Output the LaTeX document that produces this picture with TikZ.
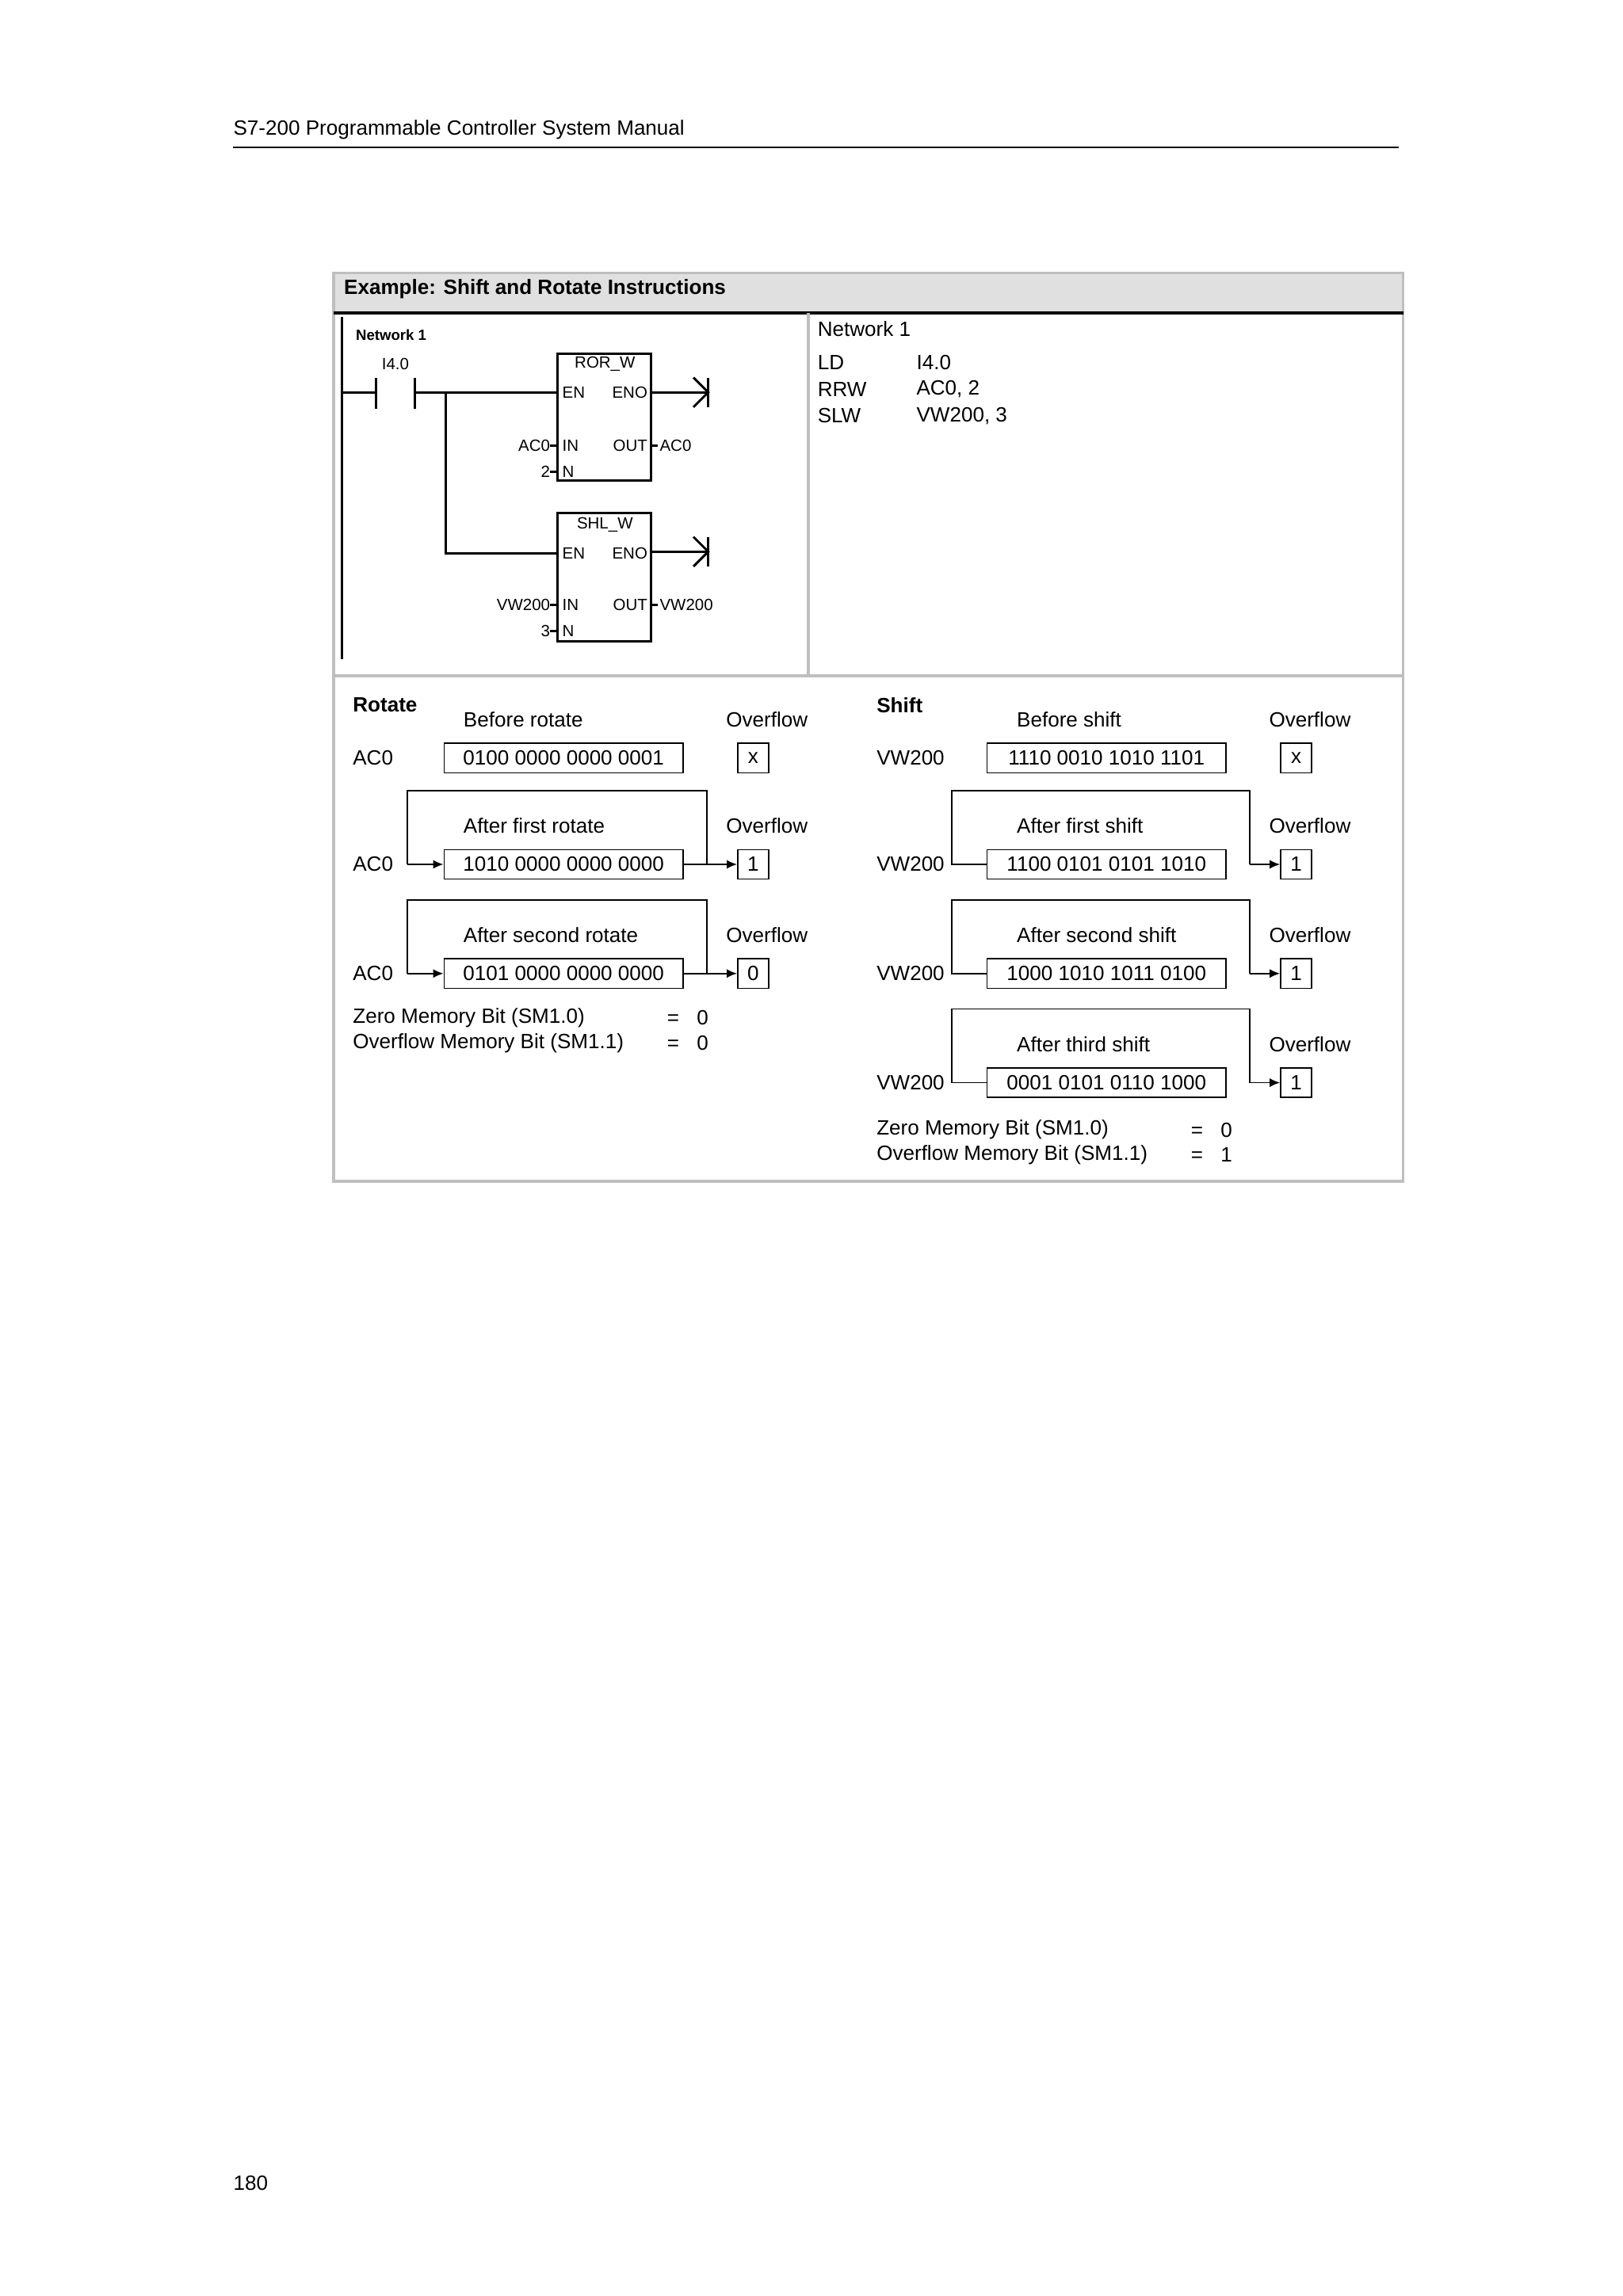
\documentclass[tikz,border=0pt]{standalone}
\usepackage{fontspec}
\setmainfont{Liberation Sans}
\usetikzlibrary{arrows.meta}
\begin{document}
\begin{tikzpicture}[x=1pt,y=-1pt,
  txt/.style={inner sep=0pt,anchor=west,font=\fontsize{14}{16}\selectfont},
  sm/.style={inner sep=0pt,font=\fontsize{11}{12}\selectfont},
  val/.style={draw,line width=0.9pt,minimum height=20pt,inner sep=0pt,font=\fontsize{14}{16}\selectfont},
  ln/.style={line width=0.9pt},
  arr/.style={line width=0.9pt,-{Latex[length=7pt,width=6pt]}},
  lad/.style={line width=1.6pt},
  grey/.style={draw=black!25,line width=2pt}]
\useasboundingbox (0,0) rectangle (1100,1556.6);
% page header
\node[txt] (hdr) at (158,88) {S7-200 Programmable Controller System Manual};
\draw[line width=0.8pt] (158,100) -- (948,100);
\node[txt] (pg) at (158,1480) {180};
% frame
\fill[black!12] (226,185) rectangle (951,212);
\draw[grey] (226,185) rectangle (951,801);
\draw[line width=2pt] (226,212) -- (951,212);
\draw[grey] (548,212) -- (548,457);
\draw[grey] (226,458) -- (951,458);
\node[txt,font=\fontsize{14}{16}\selectfont\bfseries] (title) at (233,196) {Example: Shift and Rotate Instructions};
% ladder
\node[sm,anchor=west,font=\fontsize{10}{12}\selectfont\bfseries] (nw) at (241,227) {Network 1};
\draw[lad] (232,215) -- (232,447);
\coordinate (c1) at (255,266); \coordinate (c2) at (281,266);
\draw[lad] (232,266) -- (c1); \draw[lad] (255,256) -- (255,277); \draw[lad] (281,256) -- (281,277);
\node[sm] (i40) at (268,247) {I4.0};
\node[draw,line width=1.6pt,minimum width=63pt,minimum height=86pt,inner sep=0pt] (ror) at (409.5,283) {};
\node[draw,line width=1.6pt,minimum width=63pt,minimum height=87pt,inner sep=0pt] (shl) at (409.5,391.5) {};
\draw[lad] (c2) -- (ror.west |- 0,266);
\draw[lad] (302,266) -- (302,375) -- (shl.west |- 0,375);
\foreach \b/\y in {ror/240,shl/348}{
  \draw[lad] (\b.east |- 0,\y+26) -- (480,\y+26);
  \draw[lad] (470,\y+16) -- (480,\y+26) -- (470,\y+36);
  \draw[lad] (480,\y+16) -- (480,\y+36);
}
\node[sm] (rt) at (410,247) {ROR\_W};
\node[sm] (st) at (410,356) {SHL\_W};
\foreach \y in {266,375}{
  \node[sm,anchor=west] at (381,\y) {EN};
  \node[sm,anchor=east] at (439,\y) {ENO};
}
\foreach \y in {302,410}{
  \node[sm,anchor=west] at (381,\y) {IN};
  \node[sm,anchor=east] at (439,\y) {OUT};
  \draw[lad] (373,\y) -- (378,\y); \draw[lad] (441,\y) -- (446,\y);
}
\foreach \y in {320,428}{
  \node[sm,anchor=west] at (381,\y) {N};
  \draw[lad] (373,\y) -- (378,\y);
}
\node[sm,anchor=east] (a1) at (373,302) {AC0};
\node[sm,anchor=west] (a2) at (447,302) {AC0};
\node[sm,anchor=east] (n2) at (373,320) {2};
\node[sm,anchor=east] (v1) at (373,410) {VW200};
\node[sm,anchor=west] (v2) at (447,410) {VW200};
\node[sm,anchor=east] (n3) at (373,428) {3};
% STL
\node[txt] (nw2) at (554,223) {Network 1};
\node[txt] (ld) at (554,246) {LD}; \node[txt] at (621,246) {I4.0};
\node[txt] (rrw) at (554,264) {RRW}; \node[txt] at (621,264) {AC0, 2};
\node[txt] (slw) at (554,282) {SLW}; \node[txt] at (621,282) {VW200, 3};
% Rotate
\node[txt,font=\fontsize{14}{16}\selectfont\bfseries] (rot) at (239,478) {Rotate};
\node[txt] at (314,488) {Before rotate};
\node[txt] at (492,488) {Overflow};
\node[txt] (ac0a) at (239,514) {AC0};
\node[val,minimum width=162pt] (r0) at (382,514) {0100 0000 0000 0001};
\node[val,minimum width=21pt] (o0) at (510.5,514) {x};
\foreach \i/\top/\lab/\v/\o in {1/536/After first rotate/1010 0000 0000 0000/1, 2/610/After second rotate/0101 0000 0000 0000/0}{
  \pgfmathsetmacro\yy{\top+50}
  \node[txt] at (314,\top+24) {\lab};
  \node[txt] at (492,\top+24) {Overflow};
  \node[txt] (ac\i) at (239,\yy) {AC0};
  \node[val,minimum width=162pt] (r\i) at (382,\yy) {\v};
  \node[val,minimum width=21pt] (o\i) at (510.5,\yy) {\o};
  \draw[ln] (479,\yy) -- (479,\top) -- (276,\top) -- (276,\yy);
  \draw[arr] (276,\yy) -- (r\i.west);
  \draw[arr] (r\i.east) -- (o\i.west);
}
\node[txt] (z1) at (239,690) {Zero Memory Bit (SM1.0)};
\node[txt] at (452,690) {=\hspace{12pt}0};
\node[txt] (v1b) at (239,707) {Overflow Memory Bit (SM1.1)};
\node[txt] at (452,707) {=\hspace{12pt}0};
% Shift
\node[txt,font=\fontsize{14}{16}\selectfont\bfseries] (sh) at (594,478) {Shift};
\node[txt] at (689,488) {Before shift};
\node[txt] at (860,488) {Overflow};
\node[txt] (vw0) at (594,514) {VW200};
\node[val,minimum width=162pt] (s0) at (750,514) {1110 0010 1010 1101};
\node[val,minimum width=21pt] (p0) at (878.5,514) {x};
\foreach \i/\top/\lab/\v in {1/536/After first shift/1100 0101 0101 1010, 2/610/After second shift/1000 1010 1011 0100, 3/684/After third shift/0001 0101 0110 1000}{
  \pgfmathsetmacro\yy{\top+50}
  \node[txt] at (689,\top+24) {\lab};
  \node[txt] at (860,\top+24) {Overflow};
  \node[txt] (vw\i) at (594,\yy) {VW200};
  \node[val,minimum width=162pt] (s\i) at (750,\yy) {\v};
  \node[val,minimum width=21pt] (p\i) at (878.5,\yy) {1};
  \draw[ln] (s\i.west) -- (645,\yy) -- (645,\top) -- (847,\top) -- (847,\yy);
  \draw[arr] (847,\yy) -- (p\i.west);
}
\node[txt] (z2) at (594,766) {Zero Memory Bit (SM1.0)};
\node[txt] at (807,766) {=\hspace{12pt}0};
\node[txt] (v2b) at (594,783) {Overflow Memory Bit (SM1.1)};
\node[txt] at (807,783) {=\hspace{12pt}1};
\end{tikzpicture}
\end{document}
